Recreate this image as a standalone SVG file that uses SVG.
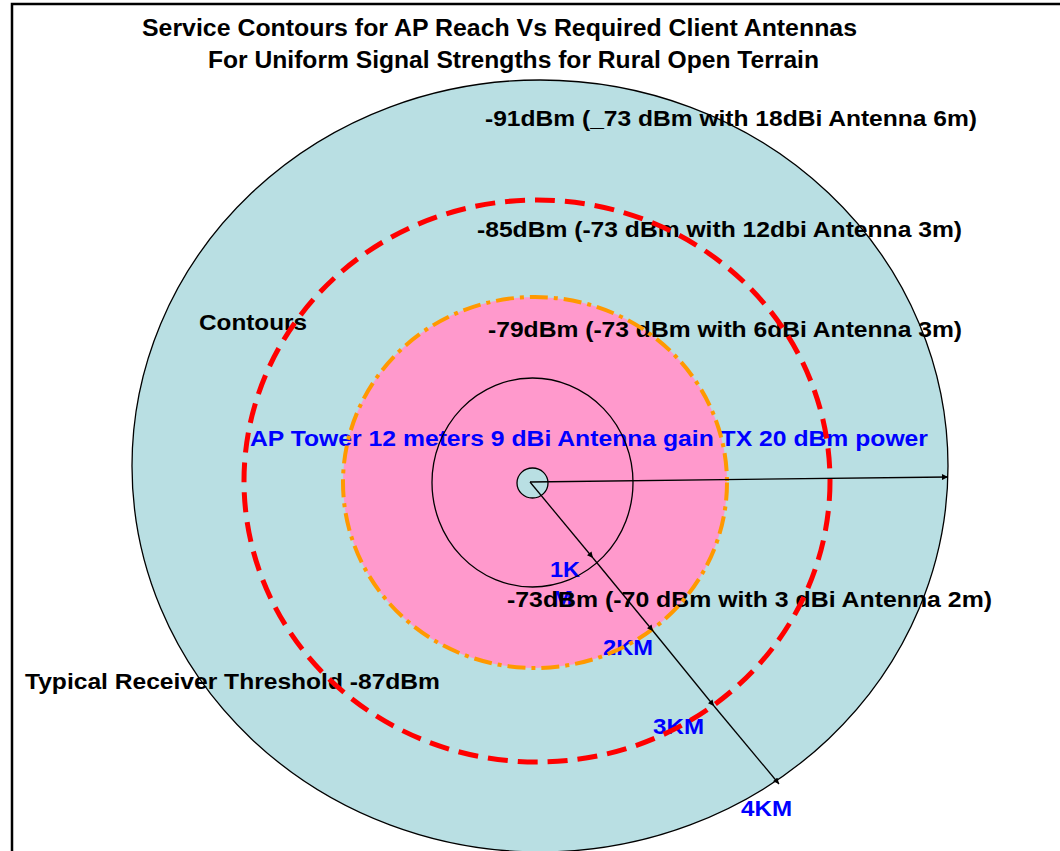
<svg xmlns="http://www.w3.org/2000/svg" width="1060" height="851" viewBox="0 0 1060 851">
<style>
.t{font-family:"Liberation Sans",Arial,sans-serif;font-weight:bold;font-size:22px;fill:#000}
.tt{font-family:"Liberation Sans Narrow","Liberation Sans",Arial,sans-serif;font-weight:bold;font-size:23px;fill:#000}
.b{fill:#0000ff}
.ln{stroke:#000;stroke-width:1.3;fill:none}
</style>
<defs>
<marker id="ah" viewBox="0 0 10 10" refX="10" refY="5" markerWidth="7" markerHeight="6" markerUnits="userSpaceOnUse" orient="auto">
<path d="M0,0 L10,5 L0,10 z" fill="#000"/>
</marker>
</defs>
<rect x="0" y="0" width="1060" height="851" fill="#fff"/>
<rect x="12" y="4" width="1060" height="870" fill="none" stroke="#000" stroke-width="2.5"/>

<g id="contour-91dBm"><ellipse cx="540" cy="466" rx="408" ry="386" fill="#b9dfe3"/></g>
<g id="contour-79dBm"><ellipse cx="535" cy="482.5" rx="192" ry="185.5" fill="#ff99cc"/></g>
<g id="tower"><ellipse cx="532.5" cy="483" rx="15.5" ry="15" fill="#b9dfe3"/></g>

<g id="labels">
<text class="tt" x="142" y="36" textLength="715" lengthAdjust="spacingAndGlyphs">Service Contours for AP Reach Vs  Required Client Antennas</text>
<text class="tt" x="208" y="68" textLength="611" lengthAdjust="spacingAndGlyphs">For Uniform Signal Strengths for Rural Open Terrain</text>
<text class="t" x="485" y="126" textLength="492" lengthAdjust="spacingAndGlyphs">-91dBm (_73 dBm with 18dBi Antenna 6m)</text>
<text class="t" x="477" y="237" textLength="485" lengthAdjust="spacingAndGlyphs">-85dBm (-73 dBm with 12dbi Antenna 3m)</text>
<text class="t" x="488" y="337" textLength="474" lengthAdjust="spacingAndGlyphs">-79dBm (-73 dBm with 6dBi Antenna 3m)</text>
<text class="t" x="199" y="330" textLength="108" lengthAdjust="spacingAndGlyphs">Contours</text>
<text class="t b" x="250" y="446" textLength="678" lengthAdjust="spacingAndGlyphs">AP Tower 12 meters 9 dBi Antenna gain TX 20 dBm power</text>
<text class="t b" x="550" y="577" textLength="30" lengthAdjust="spacingAndGlyphs">1K</text>
<text class="t b" x="552" y="606" textLength="21" lengthAdjust="spacingAndGlyphs">M</text>
<text class="t" x="507" y="607" textLength="485" lengthAdjust="spacingAndGlyphs">-73dBm  (-70 dBm with 3 dBi Antenna 2m)</text>
<text class="t b" x="603" y="655" textLength="50" lengthAdjust="spacingAndGlyphs">2KM</text>
<text class="t b" x="653" y="734" textLength="51" lengthAdjust="spacingAndGlyphs">3KM</text>
<text class="t b" x="741" y="816" textLength="51" lengthAdjust="spacingAndGlyphs">4KM</text>
<text class="t" x="25" y="689" textLength="415" lengthAdjust="spacingAndGlyphs">Typical Receiver Threshold -87dBm</text>
</g>

<g id="contour-outlines">
<ellipse cx="540" cy="466" rx="408" ry="386" fill="none" stroke="#000" stroke-width="1.3"/>
<ellipse cx="537" cy="481" rx="293" ry="281" fill="none" stroke="#ff0000" stroke-width="5" stroke-dasharray="20 10"/>
<ellipse cx="535" cy="482.5" rx="192" ry="185.5" fill="none" stroke="#ff9900" stroke-width="4" stroke-dasharray="18 6 4 6"/>
<ellipse cx="532.5" cy="482.5" rx="100.5" ry="104.5" fill="none" stroke="#000" stroke-width="1.3"/>
<ellipse cx="532.5" cy="483" rx="15.5" ry="15" fill="none" stroke="#000" stroke-width="1.3"/>
</g>

<g id="connectors">
<line class="ln" x1="530" y1="482" x2="948" y2="477" marker-end="url(#ah)"/>
<line class="ln" x1="530" y1="482" x2="593" y2="558" marker-end="url(#ah)"/>
<line class="ln" x1="593" y1="558" x2="653" y2="631" marker-end="url(#ah)"/>
<line class="ln" x1="653" y1="631" x2="714" y2="706" marker-end="url(#ah)"/>
<line class="ln" x1="714" y1="706" x2="779" y2="784" marker-end="url(#ah)"/>
</g>
</svg>
